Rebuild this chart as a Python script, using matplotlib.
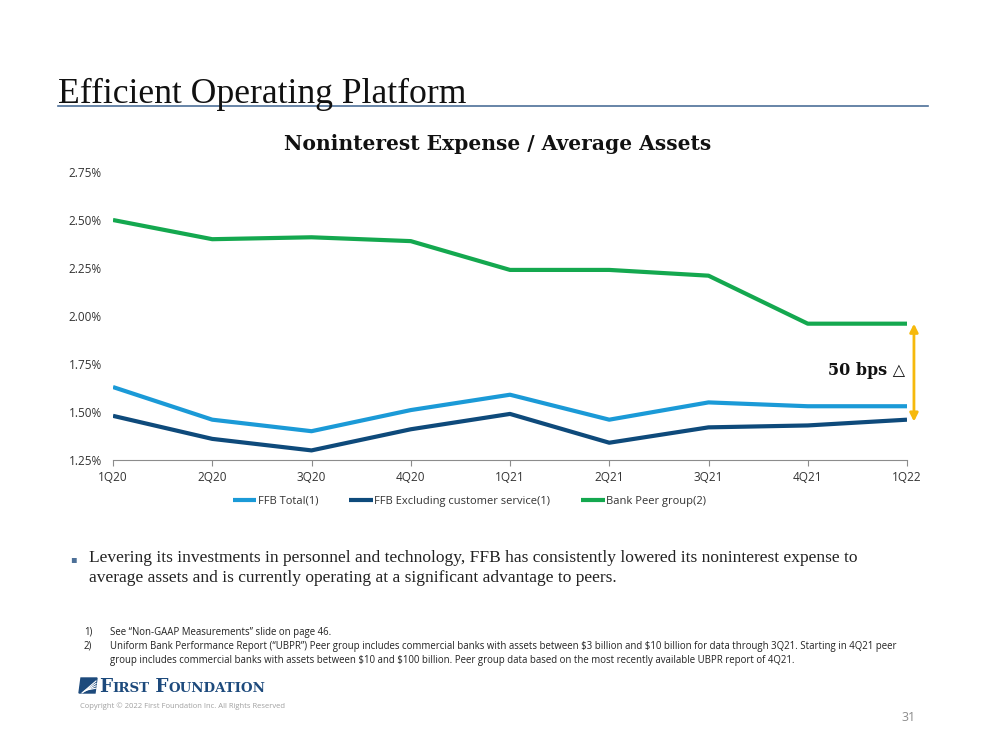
import matplotlib
matplotlib.use("Agg")
import matplotlib.pyplot as plt
from matplotlib.lines import Line2D
from matplotlib.patches import Polygon, FancyArrowPatch
import matplotlib.ticker as mticker

quarters = ["1Q20", "2Q20", "3Q20", "4Q20", "1Q21", "2Q21", "3Q21", "4Q21", "1Q22"]
ffb_total = [1.63, 1.46, 1.40, 1.51, 1.59, 1.46, 1.55, 1.53, 1.53]
ffb_excl = [1.48, 1.36, 1.30, 1.41, 1.49, 1.34, 1.42, 1.43, 1.46]
peer = [2.50, 2.40, 2.41, 2.39, 2.24, 2.24, 2.21, 1.96, 1.96]
series_labels = ["FFB Total(1)", "FFB Excluding customer service(1)", "Bank Peer group(2)"]
y_ticks = [1.25, 1.50, 1.75, 2.00, 2.25, 2.50, 2.75]

c_light = "#1b9ad7"
c_dark = "#0e4a7b"
c_green = "#14a84f"
c_gold = "#f6b90c"

W, H = 999, 750
fig = plt.figure(figsize=(9.99, 7.5), dpi=100)
bg = fig.add_axes([0, 0, 1, 1])
bg.set_xlim(0, W)
bg.set_ylim(H, 0)
bg.axis("off")

def fx(x):
    return x / W

def fy(y):
    return 1 - y / H

# Slide title
fig.text(fx(58), fy(103), "Efficient Operating Platform", family="Liberation Serif",
         fontsize=25.7, color="#111111", va="baseline", ha="left")
fig.add_artist(Line2D([fx(58), fx(928)], [fy(106), fy(106)], color="#4d7098", lw=1.2))

# Chart title
fig.text(fx(498), fy(150), "Noninterest Expense / Average Assets", family="DejaVu Serif",
         fontsize=14.6, fontweight="bold", color="#111111", ha="center", va="baseline")

ax = fig.add_axes([fx(113), fy(460), (907 - 113) / W, (460 - 172) / H])
x = list(range(len(quarters)))
ax.plot(x, ffb_total, color=c_light, lw=3, label=series_labels[0], solid_capstyle="butt")
ax.plot(x, ffb_excl, color=c_dark, lw=3, label=series_labels[1], solid_capstyle="butt")
ax.plot(x, peer, color=c_green, lw=3, label=series_labels[2], solid_capstyle="butt")
ax.set_xlim(0, len(quarters) - 1)
ax.set_ylim(1.25, 2.75)
ax.set_yticks(y_ticks)
ax.yaxis.set_major_formatter(mticker.FuncFormatter(lambda v, p: f"{v:.2f}%"))
ax.set_xticks(x)
ax.set_xticklabels(quarters)
for s in ["top", "right", "left"]:
    ax.spines[s].set_visible(False)
ax.spines["bottom"].set_color("#8c8c8c")
ax.tick_params(axis="y", length=0, pad=8, labelsize=8.5, labelcolor="#333333")
ax.tick_params(axis="x", length=4, color="#8c8c8c", labelsize=8.5, labelcolor="#333333", pad=4)
for lab in ax.get_xticklabels() + ax.get_yticklabels():
    lab.set_family("Open Sans")

leg = ax.legend(loc="upper center", bbox_to_anchor=(0.449, -0.09), ncol=3, frameon=False,
                handlelength=2.1, handletextpad=0.15, columnspacing=2.8,
                prop={"family": "Open Sans", "size": 8.0})
for t in leg.get_texts():
    t.set_color("#333333")

# Gap arrow and label
arrow = FancyArrowPatch((8.07, peer[-1]), (8.07, ffb_excl[-1] - 0.01), arrowstyle="<|-|>",
                        mutation_scale=12, color=c_gold, lw=2, clip_on=False,
                        shrinkA=0, shrinkB=0)
ax.add_patch(arrow)
ax.text(7.98, 1.715, "50 bps \u25B3", family=["DejaVu Serif"], fontsize=11.5,
        fontweight="bold", ha="right", va="center", color="#111111")

# Bullet text
fig.text(fx(70), fy(562), "\u25AA", fontsize=7, color="#4d7098", va="baseline")
fig.text(fx(89), fy(562),
         "Levering its investments in personnel and technology, FFB has consistently lowered its noninterest expense to",
         family="Liberation Serif", fontsize=12.5, color="#222222", va="baseline")
fig.text(fx(89), fy(582),
         "average assets and is currently operating at a significant advantage to peers.",
         family="Liberation Serif", fontsize=12.5, color="#222222", va="baseline")

# Footnotes
fn_kw = dict(family="Open Sans", fontsize=6.9, color="#222222", va="baseline")
fig.text(fx(84), fy(635), "1)", **fn_kw)
fig.text(fx(110), fy(635), "See \u201cNon-GAAP Measurements\u201d slide on page 46.", **fn_kw)
fig.text(fx(84), fy(649), "2)", **fn_kw)
fig.text(fx(110), fy(649),
         "Uniform Bank Performance Report (\u201cUBPR\u201d) Peer group includes commercial banks with assets between \\$3 billion and \\$10 billion for data through 3Q21. Starting in 4Q21 peer",
         **fn_kw)
fig.text(fx(110), fy(663),
         "group includes commercial banks with assets between \\$10 and \\$100 billion. Peer group data based on the most recently available UBPR report of 4Q21.",
         **fn_kw)

# Logo
logo_blue = "#1d4a7c"
bg.add_patch(Polygon([[81, 678], [97, 678], [95, 693], [79, 693]], closed=True,
                     color=logo_blue, zorder=2))
for k in range(4):
    bg.plot([82 + k * 1.5, 96], [693 - k * 1.0, 681 + k * 2.4], color="white", lw=0.8, zorder=3)
base = fy(692)
big = dict(family="DejaVu Serif", fontweight="bold", color=logo_blue, va="baseline")
t1 = bg.annotate("F", xy=(fx(99), base), xycoords="figure fraction", fontsize=13.2, **big)
t2 = bg.annotate("IRST", xy=(1, base), xycoords=(t1, "figure fraction"), fontsize=9.6, **big)
t3 = bg.annotate(" F", xy=(1, base), xycoords=(t2, "figure fraction"), fontsize=13.2, **big)
t4 = bg.annotate("OUNDATION", xy=(1, base), xycoords=(t3, "figure fraction"), fontsize=9.6, **big)

fig.text(fx(80), fy(708), "Copyright \u00a9 2022 First Foundation Inc. All Rights Reserved",
         family="Open Sans", fontsize=5.5, color="#a0a0a0", va="baseline")
fig.text(fx(916), fy(721), "31", family="Open Sans", fontsize=9, color="#8c8c8c",
         ha="right", va="baseline")

fig.savefig("out.png", dpi=100)
